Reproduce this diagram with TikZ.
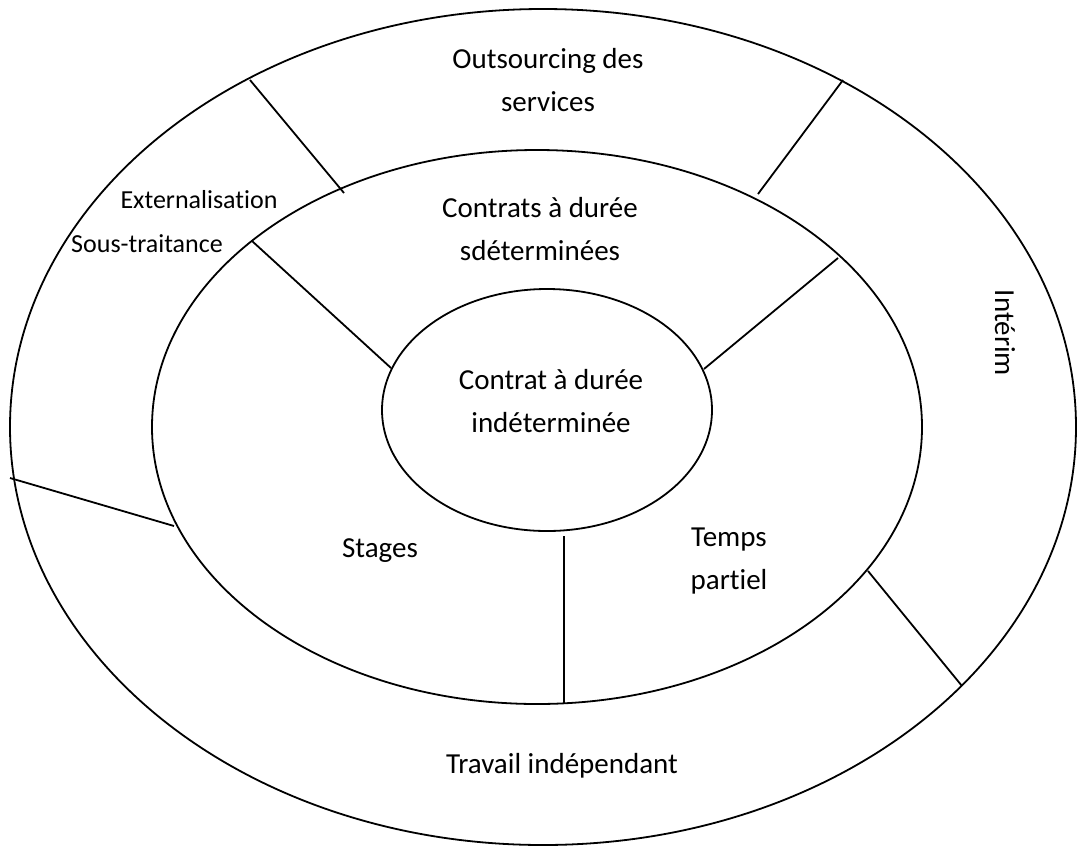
\documentclass[tikz,border=0pt]{standalone}
\usepackage{fontspec}
\setmainfont{Carlito}[Ligatures=NoCommon]
\begin{document}
\begin{tikzpicture}[x=1pt,y=-1pt,line width=1.8pt,
    ring/.style={draw,line width=1.8pt},
    txt/.style={font=\fontsize{29}{43}\selectfont,align=center,inner sep=0pt},
    smalltxt/.style={font=\fontsize{26}{32}\selectfont,inner sep=0pt}]
    \useasboundingbox (0,0) rectangle (1077,847);
    % the three rings
    \draw[ring] (543,427) ellipse [x radius=533pt, y radius=418pt];
    \draw[ring] (537,427) ellipse [x radius=385pt, y radius=277pt];
    \draw[ring] (547,410) ellipse [x radius=165pt, y radius=121pt];
    % ends of the separators
    \coordinate (o1a) at (250,80);  \coordinate (o1b) at (344,193);
    \coordinate (o2a) at (843,80);  \coordinate (o2b) at (758,194);
    \coordinate (o3a) at (10,478);  \coordinate (o3b) at (174,526);
    \coordinate (o4a) at (868,571); \coordinate (o4b) at (962,686);
    \coordinate (m1a) at (252,241); \coordinate (m1b) at (391,368);
    \coordinate (m2a) at (838,258); \coordinate (m2b) at (704,369);
    \coordinate (m3a) at (564,536); \coordinate (m3b) at (564,704);
    \draw (o1a) -- (o1b);
    \draw (o2a) -- (o2b);
    \draw (o3a) -- (o3b);
    \draw (o4a) -- (o4b);
    \draw (m1a) -- (m1b);
    \draw (m2a) -- (m2b);
    \draw (m3a) -- (m3b);
    % labels
    \node[txt] (outsourcing) at (548,80) {Outsourcing des\\services};
    \node[smalltxt] (extern) at (199,200) {Externalisation};
    \node[smalltxt] (soustrait) at (147,244) {Sous-traitance};
    \node[txt] (cdd) at (540,229) {Contrats à durée\\sdéterminées};
    \node[txt,rotate=-90] (interim) at (1005,333) {Intérim};
    \node[txt] (cdi) at (551,401) {Contrat à durée\\indéterminée};
    \node[txt] (stages) at (380,551) {Stages};
    \node[txt] (partiel) at (729,561) {Temps\\partiel};
    \node[txt] (independant) at (562,766) {Travail indépendant};
\end{tikzpicture}
\end{document}
